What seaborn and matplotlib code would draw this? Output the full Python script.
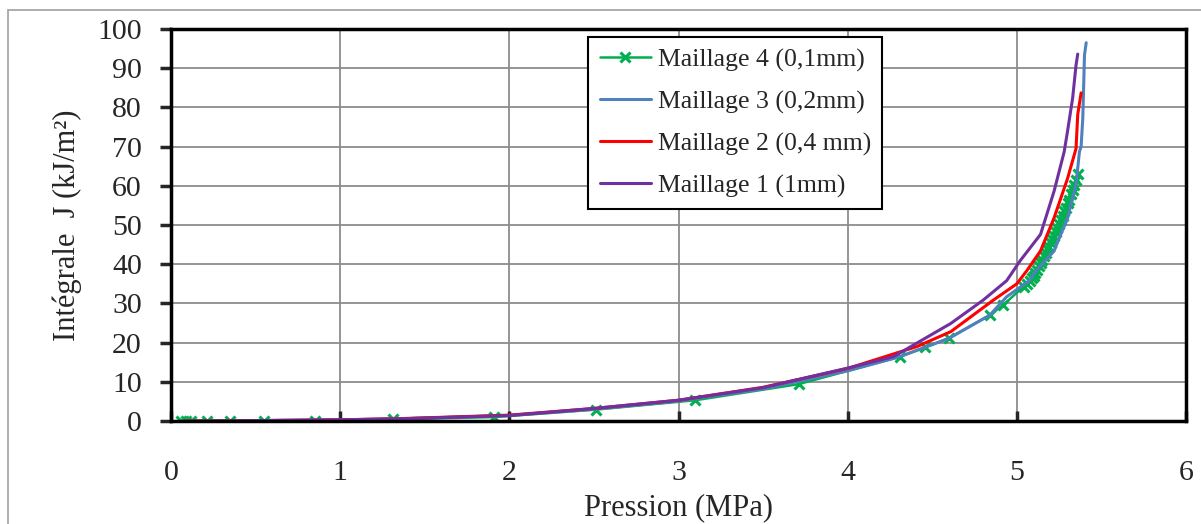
import numpy as np
import pandas as pd
import seaborn as sns
import matplotlib.pyplot as plt
from matplotlib.patches import Rectangle

# Maillage 4 (0,1mm) - markers
m4_x = [0.06, 0.09, 0.12, 0.21, 0.35, 0.55, 0.85, 1.31, 1.91, 2.51, 3.10, 3.71, 4.31, 4.46, 4.60,
        4.84, 4.92, 5.04, 5.06, 5.08, 5.09, 5.10, 5.11, 5.12, 5.13, 5.14, 5.15, 5.16, 5.17, 5.18,
        5.19, 5.20, 5.21, 5.22, 5.23, 5.24, 5.25, 5.26, 5.27, 5.28, 5.29, 5.30, 5.31, 5.32, 5.33,
        5.34, 5.35, 5.36]
m4_y = [0.0, 0.0, 0.0, 0.0, 0.0, 0.0, 0.1, 0.4, 1.0, 2.9, 5.3, 9.4, 16.4, 18.8, 21.2,
        27.0, 29.6, 34.3, 35.0, 35.6, 36.5, 37.0, 37.8, 38.6, 39.5, 40.2, 41.0, 42.0, 42.8, 43.8,
        44.5, 45.5, 46.5, 47.2, 48.3, 49.2, 50.3, 51.2, 52.3, 53.5, 54.4, 55.6, 56.5, 57.8, 58.9,
        60.3, 61.5, 63.0]

# Maillage 3 (0,2mm)
m3_x = [0.08, 0.5, 1.0, 1.35, 2.0, 2.5, 3.0, 3.5, 4.0, 4.3, 4.6, 4.84, 4.94, 5.08, 5.10, 5.22,
        5.30, 5.35, 5.37, 5.38, 5.39, 5.40, 5.41]
m3_y = [0.0, 0.1, 0.3, 0.55, 1.4, 3.0, 5.1, 8.2, 12.8, 16.3, 21.1, 27.0, 31.7, 36.0, 37.6, 43.4,
        51.8, 60.3, 68.7, 70.0, 77.4, 93.4, 96.5]

# Maillage 2 (0,4 mm)
m2_x = [0.08, 0.5, 1.0, 1.35, 2.0, 2.5, 3.0, 3.5, 4.0, 4.41, 4.61, 4.86, 5.0, 5.06, 5.14, 5.22,
        5.30, 5.35, 5.36, 5.38]
m2_y = [0.0, 0.1, 0.3, 0.6, 1.5, 3.2, 5.3, 8.6, 13.4, 19.0, 22.8, 30.8, 35.0, 38.4, 43.4, 51.8,
        61.9, 69.5, 78.2, 83.7]

# Maillage 1 (1mm)
m1_x = [0.08, 0.5, 1.0, 1.35, 2.0, 2.5, 3.0, 3.5, 4.0, 4.27, 4.61, 4.80, 4.94, 5.02, 5.14, 5.22,
        5.28, 5.30, 5.33, 5.35, 5.36]
m1_y = [0.0, 0.1, 0.3, 0.55, 1.4, 3.2, 5.3, 8.5, 13.5, 16.4, 24.9, 30.8, 35.8, 40.9, 47.6, 58.6,
        68.7, 74.0, 82.4, 90.8, 93.6]

labels = ['Maillage 4 (0,1mm)', 'Maillage 3 (0,2mm)', 'Maillage 2 (0,4 mm)', 'Maillage 1 (1mm)']
colors = ['#00B050', '#4F81BD', '#FF0000', '#7030A0']

if __name__ == '__main__':
    sns.set_theme(style="white")
    plt.rcParams['font.family'] = ['Liberation Serif', 'DejaVu Serif']

    fig = plt.figure(figsize=(12.01, 5.24), dpi=100)
    ax = fig.add_axes([171 / 1201, 1 - 421 / 524, 1015 / 1201, 392 / 524])

    # outer chart frame
    fig.patches.append(Rectangle((8 / 1201, -0.1), 1.2, 1.1 - 10 / 524, transform=fig.transFigure,
                                 fill=False, edgecolor='#A0A0A0', linewidth=1.2))

    series = [(m4_x, m4_y), (m3_x, m3_y), (m2_x, m2_y), (m1_x, m1_y)]
    for (xs, ys), lab, col in zip(series, labels, colors):
        df = pd.DataFrame({'x': xs, 'y': ys})
        if lab.startswith('Maillage 4'):
            sns.lineplot(data=df, x='x', y='y', ax=ax, color=col, lw=1.8, marker='x', ms=7,
                         mew=2.2, mec=col, estimator=None, sort=False, label=lab)
        else:
            sns.lineplot(data=df, x='x', y='y', ax=ax, color=col, lw=2.2,
                         estimator=None, sort=False, label=lab)

    ax.set_xlim(0, 6)
    ax.set_ylim(0, 100)
    ax.set_xticks(range(0, 7))
    ax.set_yticks(range(0, 101, 10))
    ax.grid(True, color='#8C8C8C', linewidth=1.3)
    ax.set_axisbelow(True)
    for s in ax.spines.values():
        s.set_color('black')
        s.set_linewidth(2.5)
    ax.tick_params(axis='y', direction='out', length=8, width=2.5, labelsize=21.5, pad=13, left=True)
    ax.tick_params(axis='x', direction='in', length=7, width=2.5, labelsize=21.5, pad=28, bottom=True)
    ax.set_xlabel('Pression (MPa)', fontsize=22, labelpad=5)
    ax.set_ylabel('Intégrale  J (kJ/m²)', fontsize=22, labelpad=11)

    leg = ax.legend(loc='upper left', bbox_to_anchor=(0.411, 0.98), fontsize=18.5, frameon=True,
                    fancybox=False, edgecolor='black', handlelength=2.0, handletextpad=0.25,
                    labelspacing=0.72, borderpad=0.45, borderaxespad=0)
    leg.get_frame().set_linewidth(1.5)
    leg.get_frame().set_alpha(1)

    plt.savefig('out.png', dpi=100)
